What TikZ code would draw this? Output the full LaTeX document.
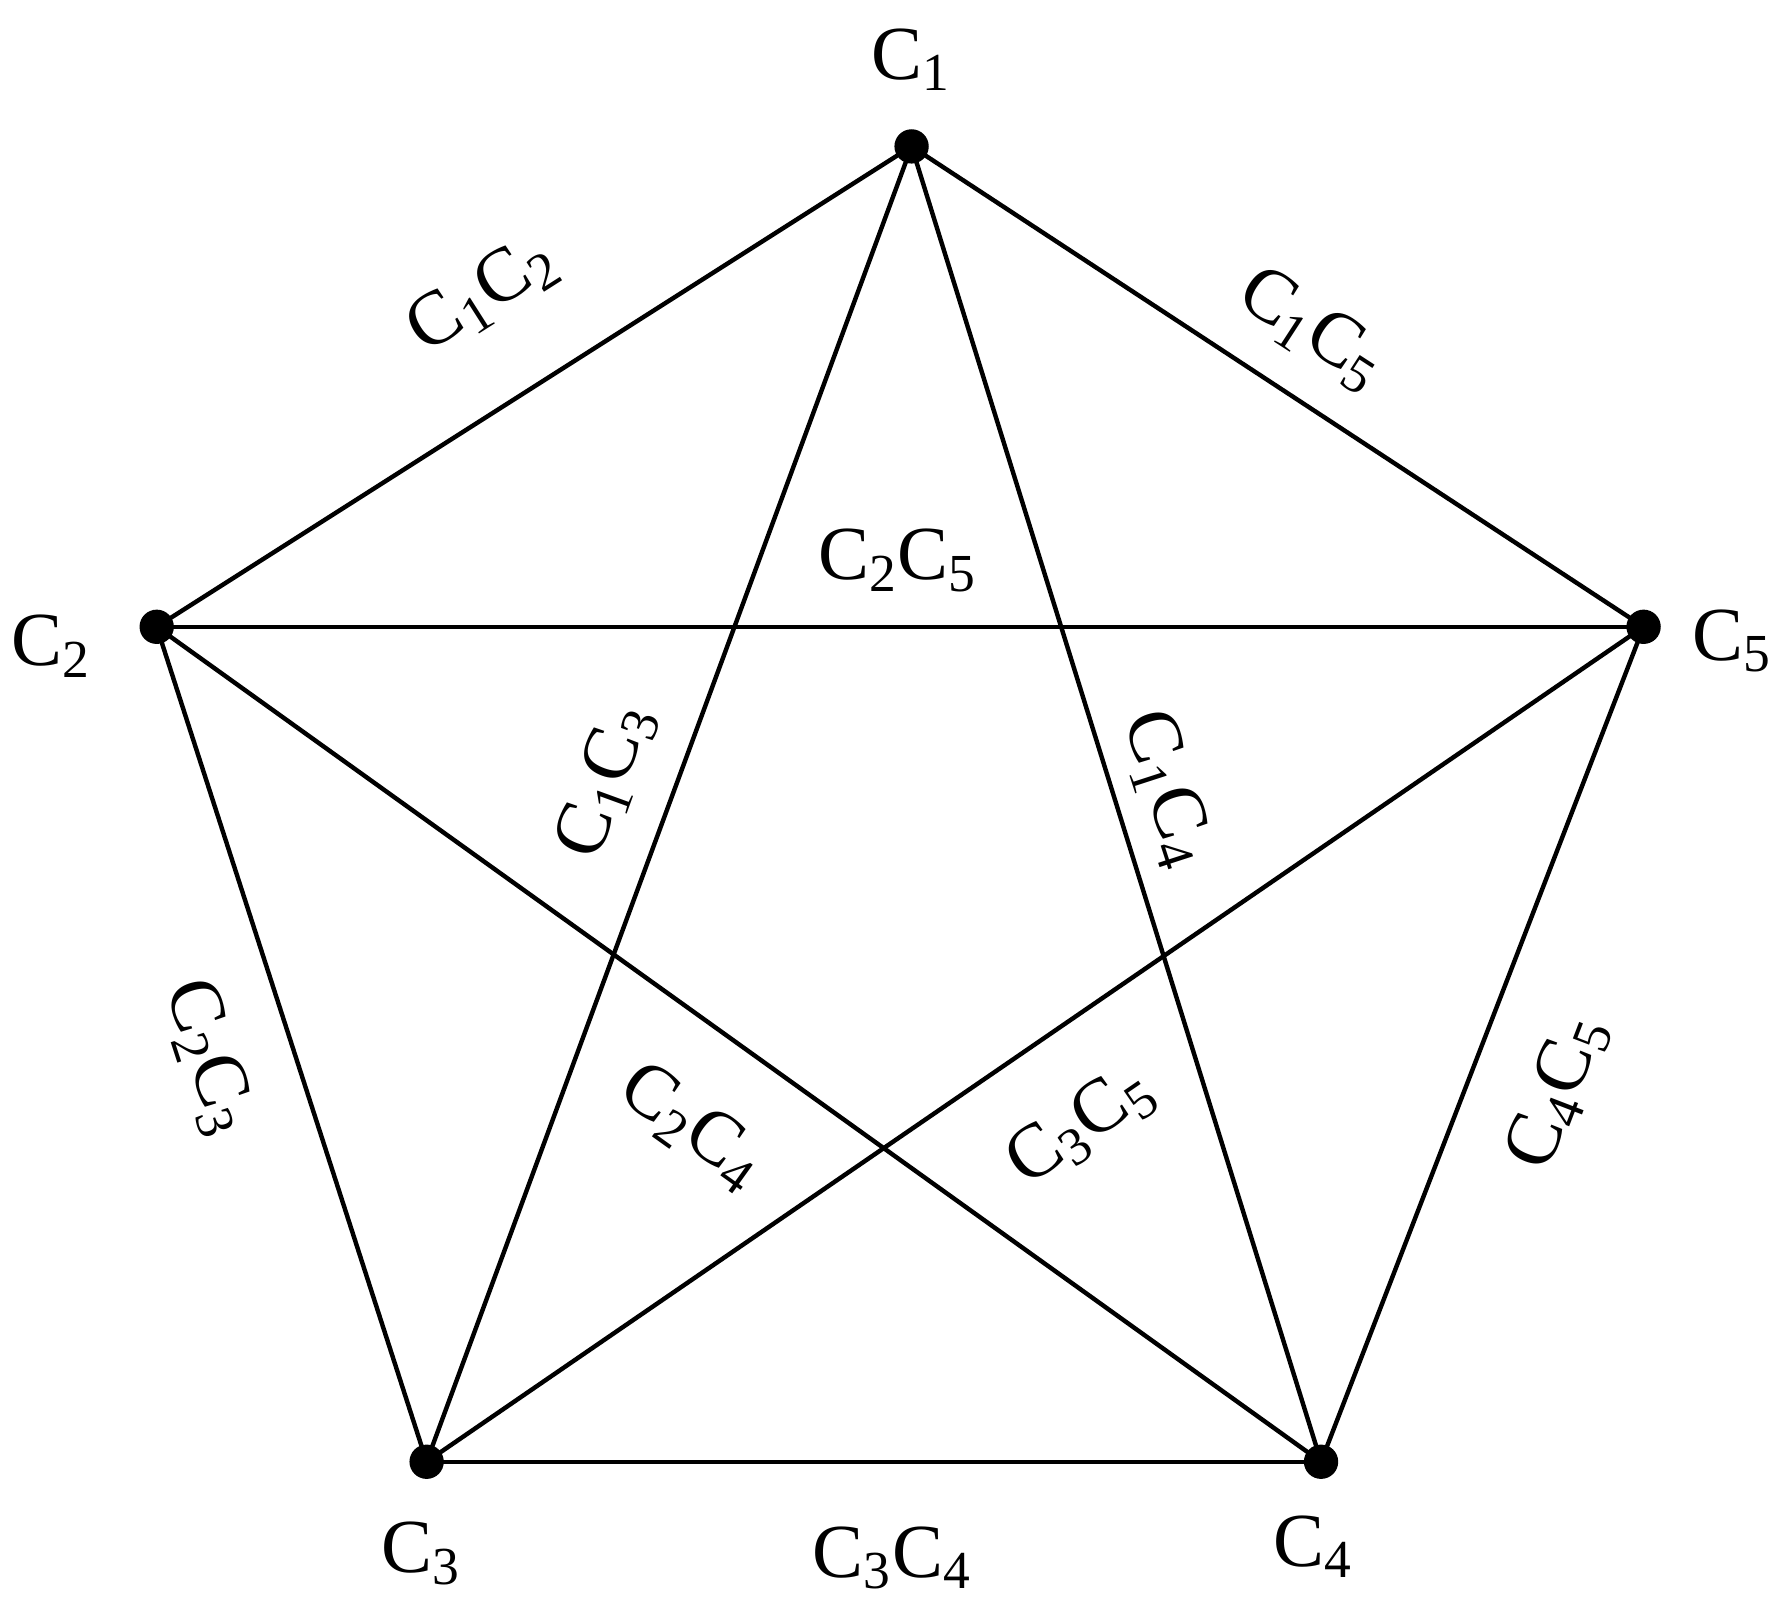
\documentclass[tikz,border=0pt]{standalone}
\usepackage{fontspec}
\setmainfont{Liberation Serif}
\newcommand{\Cs}[1]{C\textsubscript{#1}}
\begin{document}
\begin{tikzpicture}[x=0.01cm,y=-0.01cm,
  vtx/.style={circle,fill=black,inner sep=0pt,minimum size=0.3cm},
  lbl/.style={font=\fontsize{19}{22}\selectfont,inner sep=0pt},
  edge/.style={line width=1.1pt}]
\useasboundingbox (0,0) rectangle (1565,1402);
\node[vtx] (c1) at (797,128) {};
\node[vtx] (c2) at (137,548) {};
\node[vtx] (c3) at (373,1278) {};
\node[vtx] (c4) at (1155,1278) {};
\node[vtx] (c5) at (1437,548) {};
\foreach \a/\b in {c1/c2,c1/c3,c1/c4,c1/c5,c2/c3,c2/c4,c2/c5,c3/c4,c3/c5,c4/c5}
  \draw[edge] (\a.center) -- (\b.center);
\node[lbl] (l1) at (797,52) {\Cs{1}};
\node[lbl] (l2) at (45,565) {\Cs{2}};
\node[lbl] (l3) at (368,1358) {\Cs{3}};
\node[lbl] (l4) at (1148,1352) {\Cs{4}};
\node[lbl] (l5) at (1515,560) {\Cs{5}};
\node[lbl,rotate=32.5] (e12) at (422,258) {\Cs{1}\Cs{2}};
\node[lbl,rotate=-33] (e15) at (1147,288) {\Cs{1}\Cs{5}};
\node[lbl] (e25) at (785,490) {\Cs{2}\Cs{5}};
\node[lbl,rotate=70] (e13) at (530,683) {\Cs{1}\Cs{3}};
\node[lbl,rotate=-72] (e14) at (1020,690) {\Cs{1}\Cs{4}};
\node[lbl,rotate=-72] (e23) at (182,925) {\Cs{2}\Cs{3}};
\node[lbl,rotate=-35.6] (e24) at (605,985) {\Cs{2}\Cs{4}};
\node[lbl,rotate=34.5] (e35) at (945,985) {\Cs{3}\Cs{5}};
\node[lbl,rotate=69] (e45) at (1362,955) {\Cs{4}\Cs{5}};
\node[lbl] (e34) at (780,1362) {\Cs{3}\Cs{4}};
\end{tikzpicture}
\end{document}
